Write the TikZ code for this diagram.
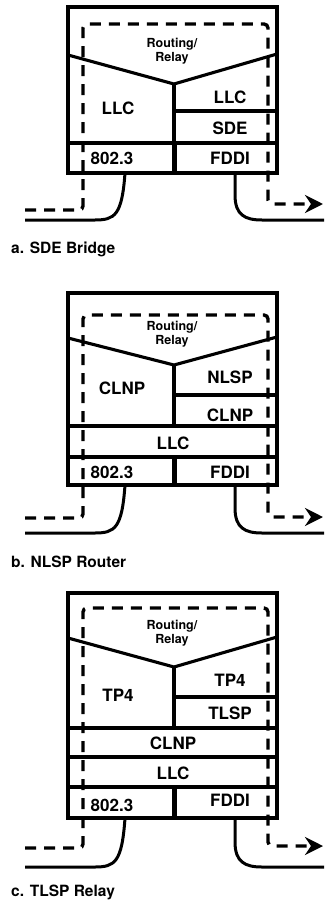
\documentclass[tikz,border=0pt]{standalone}
\usepackage{fontspec}
\setmainfont{TeX Gyre Heros}
\usetikzlibrary{arrows.meta}
\tikzset{
  boxline/.style={line width=3.1pt},
  thickdiv/.style={line width=5pt},
  route/.style={line width=3.4pt, dash pattern=on 11pt off 8pt, rounded corners=4pt},
  cable/.style={line width=3pt},
  lay/.style={font=\bfseries\fontsize{17}{17}\selectfont, inner sep=0pt},
  rr/.style={font=\bfseries\fontsize{12.5}{14}\selectfont, inner sep=0pt, align=center},
  captxt/.style={font=\bfseries\fontsize{15.5}{15.5}\selectfont, inner sep=0pt, anchor=west},
  tiparrow/.style={-{Stealth[length=18pt,width=18pt,inset=6pt]}}
}
\begin{document}
\begin{tikzpicture}[x=1pt,y=-1pt]
\useasboundingbox (0,0) rectangle (324,905);
% ---------- panel a ----------
\draw[boxline] (68,7) rectangle (277,173);
\draw[boxline] (68,55) -- (174,84) -- (277,54);
\draw[boxline] (174,84) -- (174,143);
\draw[thickdiv] (174,143) -- (174,173);
\draw[boxline] (174,111) -- (277,111);
\draw[boxline] (68,143) -- (277,143);
\draw[route,tiparrow] (25,210) -- (83,210) -- (83,24) -- (268,24) -- (268,204) -- (323,204);
\draw[cable] (125,173) .. controls (122,215) and (115,220) .. (95,220) -- (25,220);
\draw[cable] (235,173) -- (235,195) .. controls (235,215) and (245,220) .. (262,220) -- (324,220);
\node[rr] (a-rr) at (172,51) {Routing/\\Relay};
\node[lay] (a-llc1) at (118,108) {LLC};
\node[lay] (a-llc2) at (230,97) {LLC};
\node[lay] (a-sde) at (230,128) {SDE};
\node[lay] (a-8023) at (112,158) {802.3};
\node[lay] (a-fddi) at (230,158) {FDDI};
\node[captxt] (a-cap) at (11,249) {a. SDE Bridge};
% ---------- panel b ----------
\draw[boxline] (68,293) rectangle (277,485);
\draw[boxline] (68,338) -- (174,365) -- (277,337);
\draw[boxline] (174,365) -- (174,426);
\draw[thickdiv] (174,457) -- (174,485);
\draw[boxline] (174,395) -- (277,395);
\draw[boxline] (68,426) -- (277,426);
\draw[boxline] (68,457) -- (277,457);
\draw[route,tiparrow] (25,518) -- (83,518) -- (83,315) -- (268,315) -- (268,517) -- (323,517);
\draw[cable] (125,485) .. controls (122,528) and (115,533) .. (95,533) -- (25,533);
\draw[cable] (235,485) -- (235,508) .. controls (235,528) and (245,533) .. (262,533) -- (324,533);
\node[rr] (b-rr) at (172,334) {Routing/\\Relay};
\node[lay] (b-clnp1) at (122,388) {CLNP};
\node[lay] (b-nlsp) at (230,377) {NLSP};
\node[lay] (b-clnp2) at (230,415) {CLNP};
\node[lay] (b-llc) at (173,443) {LLC};
\node[lay] (b-8023) at (112,472) {802.3};
\node[lay] (b-fddi) at (230,472) {FDDI};
\node[captxt] (b-cap) at (11,562) {b. NLSP Router};
% ---------- panel c ----------
\draw[boxline] (68,593) rectangle (277,818);
\draw[boxline] (68,638) -- (174,667) -- (277,637);
\draw[boxline] (174,667) -- (174,728);
\draw[thickdiv] (174,787) -- (174,818);
\draw[boxline] (174,697) -- (277,697);
\draw[boxline] (68,728) -- (277,728);
\draw[boxline] (68,757) -- (277,757);
\draw[boxline] (68,787) -- (277,787);
\draw[route,tiparrow] (25,848) -- (83,848) -- (83,608) -- (268,608) -- (268,846) -- (323,846);
\draw[cable] (125,818) .. controls (122,862) and (115,867) .. (95,867) -- (25,867);
\draw[cable] (235,818) -- (235,842) .. controls (235,862) and (245,867) .. (262,867) -- (324,867);
\node[rr] (c-rr) at (172,633) {Routing/\\Relay};
\node[lay] (c-tp41) at (118,695) {TP4};
\node[lay] (c-tp42) at (230,680) {TP4};
\node[lay] (c-tlsp) at (230,713) {TLSP};
\node[lay] (c-clnp) at (173,743) {CLNP};
\node[lay] (c-llc) at (173,773) {LLC};
\node[lay] (c-8023) at (112,805) {802.3};
\node[lay] (c-fddi) at (230,800) {FDDI};
\node[captxt] (c-cap) at (11,892) {c. TLSP Relay};
\end{tikzpicture}
\end{document}
